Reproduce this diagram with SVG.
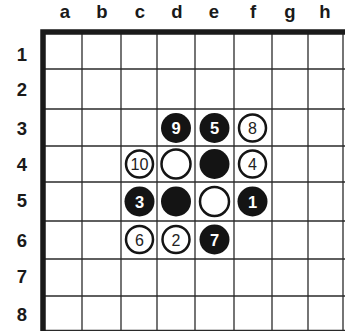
<svg xmlns="http://www.w3.org/2000/svg" width="345" height="331" viewBox="0 0 345 331">
<style>
.lbl{font-family:"Liberation Sans",Arial,sans-serif;font-weight:bold;font-size:18.5px;fill:#1a1a1a;text-anchor:middle}
.grid line{stroke:#2a2a2a;stroke-width:1.3}
.blk{fill:#141414}
.wht{fill:#fff;stroke:#141414;stroke-width:2.5}
.nb{font-family:"Liberation Sans",Arial,sans-serif;font-weight:bold;font-size:16.5px;fill:#fff;text-anchor:middle}
.nw{font-family:"Liberation Sans",Arial,sans-serif;font-size:16px;fill:#222;text-anchor:middle}
</style>
<rect width="345" height="331" fill="#fff"/>
<g id="col-labels">
<text class="lbl" x="65" y="18">a</text>
<text class="lbl" x="102" y="18">b</text>
<text class="lbl" x="140" y="18">c</text>
<text class="lbl" x="177" y="18">d</text>
<text class="lbl" x="214" y="18">e</text>
<text class="lbl" x="253" y="18">f</text>
<text class="lbl" x="290" y="18">g</text>
<text class="lbl" x="325" y="18">h</text>
</g>
<g id="row-labels">
<text class="lbl" x="22" y="61">1</text>
<text class="lbl" x="22" y="96">2</text>
<text class="lbl" x="22" y="135">3</text>
<text class="lbl" x="22" y="171">4</text>
<text class="lbl" x="22" y="207">5</text>
<text class="lbl" x="22" y="247">6</text>
<text class="lbl" x="22" y="283">7</text>
<text class="lbl" x="22" y="321">8</text>
</g>
<g id="board" class="grid">
<line x1="82" y1="32" x2="82" y2="331"/>
<line x1="121" y1="32" x2="121" y2="331"/>
<line x1="157" y1="32" x2="157" y2="331"/>
<line x1="195" y1="32" x2="195" y2="331"/>
<line x1="234" y1="32" x2="234" y2="331"/>
<line x1="272" y1="32" x2="272" y2="331"/>
<line x1="308" y1="32" x2="308" y2="331"/>
<line x1="343" y1="32" x2="343" y2="331"/>
<line x1="43" y1="69" x2="345" y2="69"/>
<line x1="43" y1="109" x2="345" y2="109"/>
<line x1="43" y1="146" x2="345" y2="146"/>
<line x1="43" y1="182" x2="345" y2="182"/>
<line x1="43" y1="221" x2="345" y2="221"/>
<line x1="43" y1="259" x2="345" y2="259"/>
<line x1="43" y1="296" x2="345" y2="296"/>
<line x1="43" y1="330.5" x2="345" y2="330.5"/>
<path d="M43 331 V32 H345" fill="none" stroke="#1a1a1a" stroke-width="5.5"/>
</g>
<g id="d3"><circle class="blk" cx="176" cy="128" r="15"/><text class="nb" x="176" y="134">9</text></g>
<g id="e3"><circle class="blk" cx="214.5" cy="128" r="15"/><text class="nb" x="214.5" y="134">5</text></g>
<g id="f3"><circle class="wht" cx="252.5" cy="128" r="13.5"/><text class="nw" x="252.5" y="134">8</text></g>
<g id="c4"><circle class="wht" cx="139.5" cy="164" r="13.5"/><text class="nw" x="139.5" y="170" textLength="18" lengthAdjust="spacingAndGlyphs">10</text></g>
<g id="d4"><circle class="wht" cx="176" cy="164" r="14.5"/></g>
<g id="e4"><circle class="blk" cx="214.5" cy="164" r="15"/></g>
<g id="f4"><circle class="wht" cx="252.5" cy="164" r="13.5"/><text class="nw" x="252.5" y="170">4</text></g>
<g id="c5"><circle class="blk" cx="139.5" cy="201.5" r="15"/><text class="nb" x="139.5" y="207.5">3</text></g>
<g id="d5"><circle class="blk" cx="176" cy="201.5" r="15"/></g>
<g id="e5"><circle class="wht" cx="214.5" cy="201.5" r="14.5"/></g>
<g id="f5"><circle class="blk" cx="252.5" cy="201.5" r="15"/><text class="nb" x="252.5" y="207.5">1</text></g>
<g id="c6"><circle class="wht" cx="139.5" cy="239.5" r="13.5"/><text class="nw" x="139.5" y="245.5">6</text></g>
<g id="d6"><circle class="wht" cx="176" cy="239.5" r="13.5"/><text class="nw" x="176" y="245.5">2</text></g>
<g id="e6"><circle class="blk" cx="214.5" cy="239.5" r="15"/><text class="nb" x="214.5" y="245.5">7</text></g>
</svg>
